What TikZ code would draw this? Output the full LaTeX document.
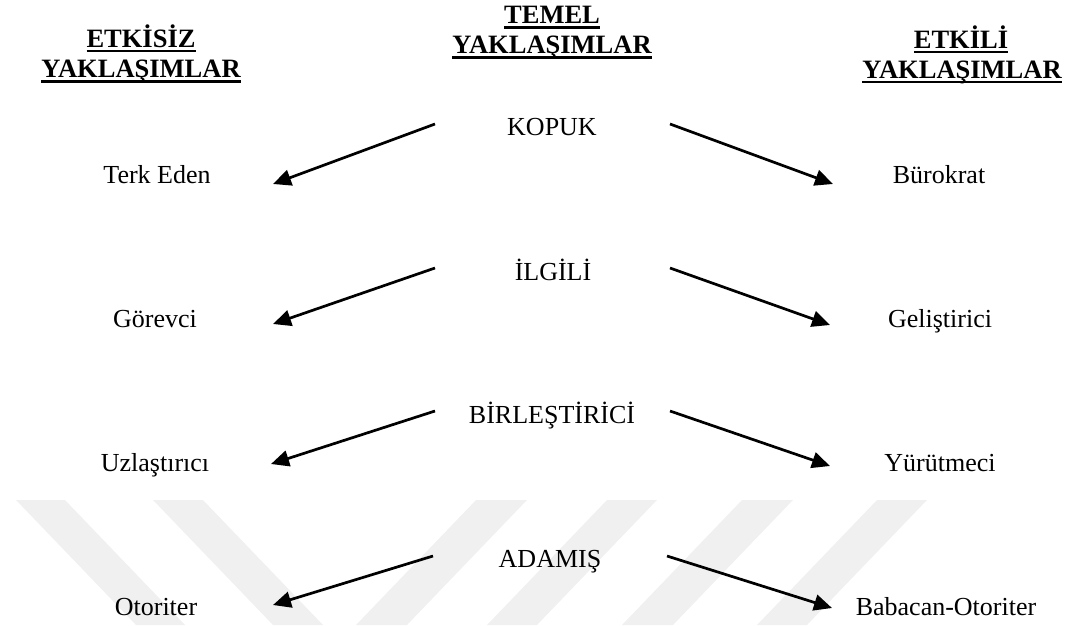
\documentclass[tikz,border=0pt]{standalone}
\usepackage{fontspec}
\setmainfont{Liberation Serif}
\usetikzlibrary{arrows.meta}
\newcommand\ulbar[1]{\setbox0=\hbox{#1}\rlap{\rule[-5pt]{\wd0}{2.5pt}}\box0}
\definecolor{wmgray}{HTML}{F0F0F0}
\tikzset{
  wm/.style={fill=wmgray, draw=none},
  head/.style={anchor=base, inner sep=0pt, font=\fontsize{26.5}{30}\selectfont\bfseries},
  lbl/.style={anchor=base, inner sep=0pt, font=\fontsize{26}{30}\selectfont},
  arr/.style={line width=2.7pt, -{Triangle[length=18pt,width=16pt]}}
}
\begin{document}
\begin{tikzpicture}[x=1pt,y=-1pt]
\useasboundingbox (0,0) rectangle (1067,625);
% watermark stripes
\fill[wm] (16,500) -- (65,500) -- (185,625) -- (136,625) -- cycle;
\fill[wm] (153,500) -- (203,500) -- (323,625) -- (273,625) -- cycle;
\fill[wm] (476,500) -- (527,500) -- (407,625) -- (356,625) -- cycle;
\fill[wm] (607,500) -- (657,500) -- (537,625) -- (487,625) -- cycle;
\fill[wm] (742,500) -- (793,500) -- (673,625) -- (622,625) -- cycle;
\fill[wm] (877,500) -- (927,500) -- (807,625) -- (757,625) -- cycle;
% headers
\node[head] (h1a) at (141,47) {\ulbar{ETKİSİZ}};
\node[head] (h1b) at (141,77.5) {\ulbar{YAKLAŞIMLAR}};
\node[head] (h2a) at (552,23.5) {\ulbar{TEMEL}};
\node[head] (h2b) at (552,53.5) {\ulbar{YAKLAŞIMLAR}};
\node[head] (h3a) at (961,48) {\ulbar{ETKİLİ}};
\node[head] (h3b) at (962,78) {\ulbar{YAKLAŞIMLAR}};
% center column
\node[lbl] (c1) at (552,135) {KOPUK};
\node[lbl] (c2) at (553,280) {İLGİLİ};
\node[lbl] (c3) at (552,423) {BİRLEŞTİRİCİ};
\node[lbl] (c4) at (550,567) {ADAMIŞ};
% left column
\node[lbl] (l1) at (157,183) {Terk Eden};
\node[lbl] (l2) at (155,327) {Görevci};
\node[lbl] (l3) at (155,471) {Uzlaştırıcı};
\node[lbl] (l4) at (156,615) {Otoriter};
% right column
\node[lbl] (r1) at (939,183) {Bürokrat};
\node[lbl] (r2) at (940,327) {Geliştirici};
\node[lbl] (r3) at (940,471) {Yürütmeci};
\node[lbl] (r4) at (946,615) {Babacan-Otoriter};
% arrow end points
\coordinate (a1s) at (435,124); \coordinate (a1t) at (273,184);
\coordinate (a2s) at (435,268); \coordinate (a2t) at (273,324);
\coordinate (a3s) at (435,411); \coordinate (a3t) at (271,464);
\coordinate (a4s) at (433,556); \coordinate (a4t) at (273,605);
\coordinate (b1s) at (670,124); \coordinate (b1t) at (833,184);
\coordinate (b2s) at (670,268); \coordinate (b2t) at (830,325);
\coordinate (b3s) at (670,411); \coordinate (b3t) at (830,466);
\coordinate (b4s) at (667,556); \coordinate (b4t) at (832,608);
\foreach \i in {1,2,3,4} {
  \draw[arr] (a\i s) -- (a\i t);
  \draw[arr] (b\i s) -- (b\i t);
}
\end{tikzpicture}
\end{document}
